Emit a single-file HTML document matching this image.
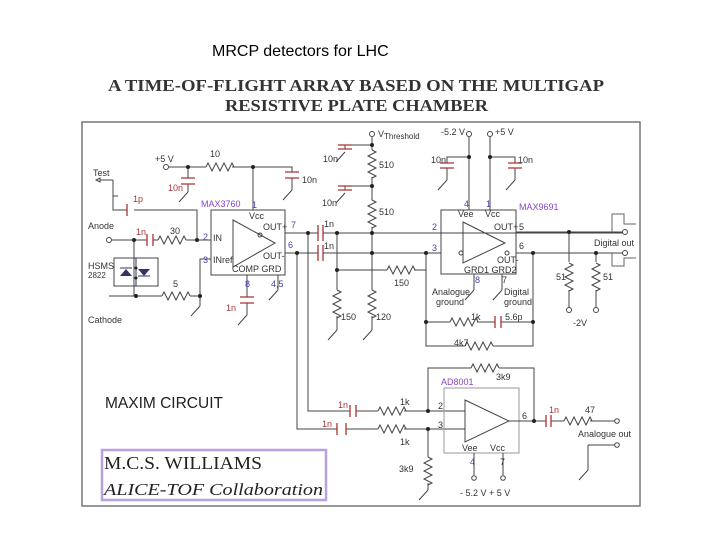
<!DOCTYPE html>
<html><head><style>
body{margin:0;background:#fff;}
svg{display:block;}
text{font-family:"Liberation Sans",sans-serif;font-size:9px;fill:#333;}
.b{fill:#44a}.r{fill:#a33}.p{fill:#84c}
</style></head><body>
<svg width="720" height="540" viewBox="0 0 720 540" xmlns="http://www.w3.org/2000/svg">
<defs>
<path id="R" d="M0,0 l2,-4 l4,8 l4,-8 l4,8 l4,-8 l4,8 l4,-8 l2,4" fill="none" stroke="#444" stroke-width="1"/>
<g id="G"><path d="M0,0 l-9,10" stroke="#444" fill="none"/></g>
</defs>
<text x="212" y="56" style="font-size:16px;fill:#000">MRCP detectors for LHC</text>
<text x="108" y="91" textLength="496" lengthAdjust="spacingAndGlyphs" style="font-family:'Liberation Serif',serif;font-size:17px;font-weight:bold;fill:#333">A TIME-OF-FLIGHT ARRAY BASED ON THE MULTIGAP</text>
<text x="225" y="111" textLength="263" lengthAdjust="spacingAndGlyphs" style="font-family:'Liberation Serif',serif;font-size:17px;font-weight:bold;fill:#333">RESISTIVE PLATE CHAMBER</text>
<rect x="82" y="122" width="558" height="384" fill="none" stroke="#777" stroke-width="1.5"/>
<g stroke="#444" fill="none" stroke-width="1">
<rect x="211" y="210" width="74" height="65"/>
<path d="M233,220 L275,243 L233,267 Z"/>
<circle cx="260" cy="235" r="2"/>
<circle cx="166" cy="167" r="2.5"/>
<path d="M169,167 H206 M232,167 H292 V172 M292,178 V190 M188,167 V178 M188,184 V192 M253,167 V210"/>
<circle cx="109" cy="240" r="2.5"/>
<path d="M112,240 H147 M153,240 H158 M186,240 H211 M197,240 V210 H134 M127,210 H113 V180 M134,240 V296 M109,296 H162 M190,296 H200 V259 H211 M200,296 V306 M247,275 V297 M247,303 V315 M278,275 V290"/>
<path d="M113,180 H100 M96,180 l4,-2 v4z M113,196 H118"/>
<rect x="114" y="258" width="44" height="28"/>
<path d="M285,233 H318 M323,233 H625 M285,253 H318 M323,253 H441"/>
<path d="M308,233 V411 H350 M356,411 H378 M404,411 H465 M297,253 V429 H337 M346,429 H378 M404,429 H465"/>
<circle cx="372" cy="134" r="2.5"/>
<path d="M372,137 V150 M372,177 V200 M372,227 V290 M372,316 V330 M372,145 H345 V149 M372,186 H345 V190 M337,233 V290 M337,316 V330 M337,270 H387 M414,270 H426 M426,253 V346 H465 M493,346 H533 V253 M426,322 H450 M477,322 H495 M501,322 H533"/>
<rect x="441" y="210" width="75" height="64"/>
<path d="M463,222 L505,243 L463,263 Z"/>
<circle cx="461" cy="253" r="2"/><circle cx="507" cy="253" r="2"/>
<circle cx="469" cy="134" r="2.5"/><circle cx="490" cy="134" r="2.5"/>
<path d="M469,137 V210 M490,137 V210 M469,157 H447 V163 M447,168 V180 M490,157 H515 V163 M515,168 V180 M474,274 V290 M502,274 V290"/>
<path d="M516,232 H625 M516,253 H625 M569,232 V262 M569,290 V307 M596,253 V262 M596,290 V307"/>
<circle cx="569" cy="310" r="2.5"/><circle cx="596" cy="310" r="2.5"/>
<circle cx="625" cy="232" r="2.5" fill="#fff"/><circle cx="625" cy="253" r="2.5" fill="#fff"/>
<path d="M612,232 V214 H624 V224 H636 M612,253 V266 H624 V258 H636" stroke="#666"/>
<rect x="444" y="388" width="75" height="65" stroke="#999"/>
<path d="M465,400 L509,421 L465,442 Z"/>
<path d="M428,411 V368 H471 M499,368 H534 V421 M509,421 H546 M551,421 H564 M590,421 H615 M588,445 H615 M588,445 V470 M428,429 V457 M428,483 V490 M474,453 V475 M503,453 V475"/>
<circle cx="617" cy="421" r="2.3"/><circle cx="617" cy="445" r="2.3"/>
<circle cx="474" cy="478" r="2.3"/><circle cx="503" cy="478" r="2.3"/>
</g>
<use href="#R" transform="translate(206,167)"/>
<use href="#R" transform="translate(158,240)"/>
<use href="#R" transform="translate(162,296)"/>
<use href="#R" transform="translate(372,150) rotate(90)"/>
<use href="#R" transform="translate(372,200) rotate(90)"/>
<use href="#R" transform="translate(337,290) rotate(90)"/>
<use href="#R" transform="translate(372,290) rotate(90)"/>
<use href="#R" transform="translate(387,270)"/>
<use href="#R" transform="translate(450,322)"/>
<use href="#R" transform="translate(465,346)"/>
<use href="#R" transform="translate(569,263) rotate(90)"/>
<use href="#R" transform="translate(596,263) rotate(90)"/>
<use href="#R" transform="translate(378,411)"/>
<use href="#R" transform="translate(378,429)"/>
<use href="#R" transform="translate(471,368)"/>
<use href="#R" transform="translate(564,421)"/>
<use href="#R" transform="translate(428,457) rotate(90)"/>
<use href="#G" transform="translate(188,192)"/><use href="#G" transform="translate(292,190)"/>
<use href="#G" transform="translate(200,306)"/><use href="#G" transform="translate(247,315)"/>
<use href="#G" transform="translate(278,290)"/><use href="#G" transform="translate(345,152)"/>
<use href="#G" transform="translate(345,193)"/><use href="#G" transform="translate(337,330)"/>
<use href="#G" transform="translate(372,330)"/><use href="#G" transform="translate(447,180)"/>
<use href="#G" transform="translate(515,180)"/><use href="#G" transform="translate(474,290)"/>
<use href="#G" transform="translate(502,290)"/><use href="#G" transform="translate(428,490)"/>
<use href="#G" transform="translate(588,470)"/>
<g stroke="#a33" stroke-width="1.3">
<path d="M147,234 V246 M153,234 V246 M127,204 V216 M181,178 H195 M181,184 H195 M285,172 H299 M285,178 H299 M240,297 H254 M240,303 H254"/>
<path d="M318,225 V241 M323,225 V241 M318,245 V261 M323,245 V261 M338,149 H352 M338,145 H352 M338,190 H352 M338,186 H352"/>
<path d="M440,163 H454 M440,168 H454 M508,163 H522 M508,168 H522 M495,316 V328 M501,316 V328"/>
<path d="M337,423 V435 M346,423 V435 M350,405 V417 M356,405 V417 M546,415 V427 M551,415 V427"/>
</g>
<path d="M120,276 h12 l-6,-7z M138,269 h12 l-6,7z" fill="#336"/>
<path d="M120,268 h12 M138,276 h12 M136,258 V286" stroke="#336"/>
<g fill="#222">
<circle cx="188" cy="167" r="2"/><circle cx="253" cy="167" r="2"/><circle cx="134" cy="240" r="2"/>
<circle cx="197" cy="240" r="2"/><circle cx="136" cy="296" r="2"/><circle cx="200" cy="296" r="2"/>
<circle cx="308" cy="233" r="2"/><circle cx="297" cy="253" r="2"/><circle cx="337" cy="233" r="2"/>
<circle cx="372" cy="233" r="2"/><circle cx="372" cy="253" r="2"/><circle cx="426" cy="253" r="2"/>
<circle cx="337" cy="270" r="2"/><circle cx="372" cy="145" r="2"/><circle cx="372" cy="186" r="2"/>
<circle cx="469" cy="157" r="2"/><circle cx="490" cy="157" r="2"/><circle cx="533" cy="253" r="2"/>
<circle cx="569" cy="232" r="2"/><circle cx="596" cy="253" r="2"/><circle cx="426" cy="322" r="2"/>
<circle cx="533" cy="322" r="2"/><circle cx="428" cy="411" r="2"/><circle cx="428" cy="429" r="2"/>
<circle cx="534" cy="421" r="2"/><circle cx="136" cy="268" r="1.5"/><circle cx="136" cy="278" r="1.5"/>
</g>
<text x="93" y="176">Test</text><text x="155" y="162">+5 V</text><text x="210" y="157">10</text>
<text x="168" y="191" class="r">10n</text><text x="302" y="183">10n</text><text x="133" y="202" class="r">1p</text>
<text x="88" y="229">Anode</text><text x="136" y="235" class="r">1n</text><text x="170" y="234">30</text>
<text x="88" y="269">HSMS</text><text x="88" y="278" style="font-size:8px">2822</text>
<text x="88" y="323">Cathode</text><text x="173" y="287">5</text>
<text x="201" y="207" class="p">MAX3760</text><text x="252" y="208" class="b">1</text>
<text x="249" y="219">Vcc</text><text x="203" y="240" class="b">2</text><text x="213" y="241">IN</text>
<text x="203" y="263" class="b">3</text><text x="213" y="263">INref</text>
<text x="263" y="230">OUT+</text><text x="291" y="228" class="b">7</text>
<text x="288" y="248" class="b">6</text><text x="263" y="259">OUT-</text>
<text x="232" y="272">COMP GRD</text><text x="245" y="287" class="b">8</text><text x="271" y="287" class="b">4,5</text>
<text x="226" y="311" class="r">1n</text>
<text x="378" y="137">V<tspan style="font-size:8px" dy="2">Threshold</tspan></text>
<text x="323" y="162">10n</text><text x="379" y="168">510</text><text x="322" y="206">10n</text><text x="379" y="215">510</text>
<text x="324" y="227">1n</text><text x="324" y="249">1n</text><text x="394" y="286">150</text>
<text x="341" y="320">150</text><text x="376" y="320">120</text>
<text x="441" y="135">-5.2 V</text><text x="495" y="135">+5 V</text>
<text x="431" y="163">10n</text><text x="518" y="163">10n</text>
<text x="464" y="207" class="b">4</text><text x="486" y="207" class="b">1</text>
<text x="458" y="217">Vee</text><text x="485" y="217">Vcc</text><text x="519" y="210" class="p">MAX9691</text>
<text x="494" y="230">OUT+</text><text x="519" y="230">5</text>
<text x="432" y="230" class="b">2</text><text x="432" y="251" class="b">3</text><text x="519" y="249">6</text>
<text x="497" y="263">OUT-</text><text x="464" y="273">GRD1 GRD2</text>
<text x="475" y="283" class="b">8</text><text x="502" y="283">7</text>
<text x="432" y="295">Analogue</text><text x="436" y="305">ground</text>
<text x="504" y="295">Digital</text><text x="504" y="305">ground</text>
<text x="471" y="320">1k</text><text x="505" y="320">5.6p</text><text x="454" y="346">4k7</text>
<text x="594" y="246">Digital out</text><text x="556" y="280">51</text><text x="603" y="280">51</text><text x="573" y="326">-2V</text>
<text x="496" y="380">3k9</text><text x="441" y="385" class="p">AD8001</text>
<text x="105" y="408" style="font-size:15.5px;fill:#222">MAXIM CIRCUIT</text>
<text x="338" y="408" class="r">1n</text><text x="322" y="427" class="r">1n</text>
<text x="400" y="405">1k</text><text x="400" y="445">1k</text>
<text x="438" y="409">2</text><text x="438" y="428">3</text><text x="522" y="419">6</text>
<text x="549" y="413" class="r">1n</text><text x="585" y="413">47</text>
<text x="578" y="437">Analogue out</text>
<text x="462" y="451">Vee</text><text x="490" y="451">Vcc</text>
<text x="470" y="465" class="b">4</text><text x="500" y="465">7</text>
<text x="460" y="496">- 5.2 V  + 5 V</text><text x="399" y="472">3k9</text>
<rect x="102" y="450" width="224" height="50" fill="none" stroke="#b9a0e0" stroke-width="2.5"/>
<text x="104" y="469" textLength="158" lengthAdjust="spacingAndGlyphs" style="font-family:'Liberation Serif',serif;font-size:18px;fill:#222">M.C.S. WILLIAMS</text>
<text x="104" y="495" textLength="219" lengthAdjust="spacingAndGlyphs" style="font-family:'Liberation Serif',serif;font-size:17px;font-style:italic;fill:#222">ALICE-TOF Collaboration</text>
</svg>
</body></html>
